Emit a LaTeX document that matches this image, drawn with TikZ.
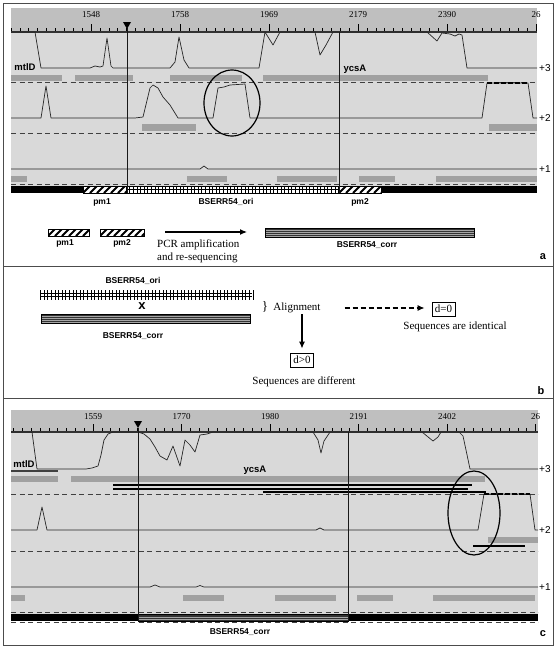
\documentclass[tikz,border=0pt]{standalone}
\usepackage{fontspec}
\setmainfont{Liberation Serif}
\newfontfamily\tagfont{Liberation Sans}
\usetikzlibrary{arrows.meta}
\tikzset{
  plotbg/.style={fill=black!15},
  rulerbg/.style={fill=black!25},
  hitbar/.style={fill=black!37},
  trace/.style={line width=0.7pt, draw=black!85, line join=round},
  sepline/.style={dash pattern=on 5pt off 3.5pt, line width=0.6pt, draw=black!75},
  cursor/.style={line width=0.7pt, draw=black!90},
  ring/.style={line width=1.2pt, draw=black},
  seqtag/.style={font=\tagfont\bfseries\fontsize{8.5}{10}\selectfont, inner sep=0pt},
  genetag/.style={font=\tagfont\bfseries\fontsize{9.5}{11}\selectfont, inner sep=0pt},
  frametag/.style={font=\tagfont\fontsize{10}{12}\selectfont, inner sep=0pt, anchor=west},
  postag/.style={font=\fontsize{9}{10}\selectfont, inner sep=0pt},
  notetext/.style={font=\fontsize{11}{13}\selectfont, inner sep=0pt},
  panel/.style={font=\tagfont\bfseries\fontsize{11}{13}\selectfont, inner sep=0pt},
  dbox/.style={draw, line width=0.8pt, minimum width=23pt, minimum height=14pt, inner sep=1pt, font=\fontsize{11}{13}\selectfont},
  flow/.style={-{Latex[length=7pt,width=6pt]}, line width=1.2pt}
}
% bar fillings: x1, y1, x2, y2
\newcommand{\hatchbar}[4]{%
  \fill[white] (#1,#2) rectangle (#3,#4);
  \begin{scope}
    \clip (#1,#2) rectangle (#3,#4);
    \foreach \k in {-2,...,12}
      \draw[line width=2pt] ({#1+\k*7},#4) -- ++(9,-9);
  \end{scope}
  \draw[line width=0.5pt] (#1,#2) rectangle (#3,#4);
}
\newcommand{\gridbar}[4]{%
  \fill[white] (#1,#2) rectangle (#3,#4);
  \begin{scope}
    \clip (#1,#2) rectangle (#3,#4);
    \foreach \k in {0,...,65}
      \draw[line width=0.5pt] ({#1+\k*3.6},#2) -- ({#1+\k*3.6},#4);
  \end{scope}
  \draw[line width=0.5pt] (#1,#2) rectangle (#3,#4);
  \draw[line width=0.5pt] (#1,{(#2+#4)/2}) -- (#3,{(#2+#4)/2});
}
\newcommand{\corrbar}[4]{%
  \fill[black!35] (#1,#2) rectangle (#3,#4);
  \foreach \f in {0.15,0.38,0.62,0.85}
    \draw[line width=0.6pt, black!80] (#1,{#2+\f*(#4-#2)}) -- (#3,{#2+\f*(#4-#2)});
  \draw[line width=0.5pt] (#1,#2) rectangle (#3,#4);
}

\begin{document}
\begin{tikzpicture}[x=1pt, y=-1pt]
  \useasboundingbox (0,0) rectangle (557,648);
  \fill[white] (0,0) rectangle (557,648);
  \draw[line width=1pt, black!70] (3,3) rectangle (553,645);
  \draw[line width=1pt, black!70] (3,266) -- (553,266);
  \draw[line width=1pt, black!70] (3,398) -- (553,398);

  % ---- panel a ----
  \fill[rulerbg] (11,8) rectangle (537,32);
  \fill[plotbg] (11,32) rectangle (537,193);
  \foreach \j in {-9,...,50}
    \draw[line width=0.5pt] ({91+\j*8.9},28) -- ({91+\j*8.9},32);
  \foreach \v [count=\k from 0] in {1548,1758,1969,2179,2390,26} {
    \draw[line width=0.6pt] ({91+\k*89},24) -- ({91+\k*89},32);
    \node[postag] (tka\k) at ({91+\k*89},15) {\v};
  }
  \draw[line width=1.6pt, black!80] (11,32) -- (537,32);

  \fill[hitbar] (11,75) rectangle (62,81);
  \fill[hitbar] (75,75) rectangle (133,81);
  \fill[hitbar] (170,75) rectangle (242,81);
  \fill[hitbar] (263,75) rectangle (488,81);
  \fill[hitbar] (142,124) rectangle (196,131);
  \fill[hitbar] (489,124) rectangle (537,131);
  \fill[hitbar] (11,176) rectangle (27,182);
  \fill[hitbar] (187,176) rectangle (227,182);
  \fill[hitbar] (277,176) rectangle (337,182);
  \fill[hitbar] (359,176) rectangle (395,182);
  \fill[hitbar] (436,176) rectangle (537,182);
  \foreach \y in {82,133,184}
    \draw[sepline] (11,\y) -- (537,\y);

  \draw[trace] (11,32) -- (35,32) -- (41,68) -- (90,68) -- (95,66) -- (100,67) -- (103,66) -- (107,38)
    -- (111,66) -- (113,68) -- (170,68) -- (175,62) -- (179,37) -- (184,60) -- (189,68) -- (259,68)
    -- (265,32) -- (273,45) -- (280,32) -- (315,32) -- (320,55) -- (326,45) -- (333,32) -- (427,32)
    -- (437,41) -- (442,33) -- (450,34) -- (455,36) -- (459,34) -- (462,35) -- (467,68) -- (537,68);
  \draw[trace] (11,118) -- (41,118) -- (46,86) -- (51,118) -- (135,118) -- (143,117) -- (150,88)
    -- (153,85) -- (158,88) -- (163,97) -- (170,105) -- (178,118) -- (213,118) -- (218,88) -- (224,87)
    -- (230,85) -- (245,84) -- (250,118) -- (482,118) -- (487,83) -- (528,83) -- (533,118) -- (537,118);
  \draw[line width=1.4pt, dash pattern=on 5pt off 2pt] (487,83) -- (528,83);
  \draw[trace] (11,169) -- (200,169) -- (204,166) -- (208,169) -- (537,169);

  \fill[black] (11,186) rectangle (83,193);
  \hatchbar{83}{186}{126}{193}
  \gridbar{126}{186}{339}{193}
  \hatchbar{339}{186}{381}{193}
  \fill[black] (381,186) rectangle (537,193);

  \draw[cursor] (127,28) -- (127,193);
  \fill (123,22) -- (131,22) -- (127,29) -- cycle;
  \draw[cursor] (339,32) -- (339,193);
  \draw[ring] (232,103) ellipse [x radius=28pt, y radius=33pt];

  \node[genetag] (mtlda) at (25,67) {mtlD};
  \node[genetag] (ycsaa) at (355,69) {ycsA};
  \node[frametag] (fa3) at (539,68) {+3};
  \node[frametag] (fa2) at (539,118) {+2};
  \node[frametag] (fa1) at (539,169) {+1};
  \node[seqtag] (pm1a) at (102,202) {pm1};
  \node[seqtag] (oria) at (226,202) {BSERR54\_ori};
  \node[seqtag] (pm2a) at (360,202) {pm2};

  \hatchbar{48}{229}{89}{236}
  \hatchbar{100}{229}{144}{236}
  \node[seqtag] (pm1b) at (65,243) {pm1};
  \node[seqtag] (pm2b) at (122,243) {pm2};
  \coordinate (pcrs) at (165,232);
  \coordinate (pcre) at (247,232);
  \draw[flow] (pcrs) -- (pcre);
  \node[notetext, anchor=west] (pcr1) at (157,245) {PCR amplification};
  \node[notetext, anchor=west] (pcr2) at (157,258) {and re-sequencing};
  \corrbar{265}{228}{474}{237}
  \node[seqtag] (corra) at (367,245) {BSERR54\_corr};
  \node[panel] (pa) at (543,257) {a};

  % ---- panel b ----
  \node[seqtag] (orib) at (133,281) {BSERR54\_ori};
  \draw[line width=0.6pt] (40,293) -- (252,293);
  \draw[line width=0.6pt] (40,296.5) -- (252,296.5);
  \foreach \k in {0,...,59}
    \draw[line width=0.6pt] ({40.5+\k*3.6},290) -- ({40.5+\k*3.6},299.5);
  \node[font=\tagfont\bfseries\fontsize{13}{14}\selectfont, inner sep=0pt] (cross) at (142,306) {x};
  \corrbar{41}{314}{250}{323}
  \node[seqtag] (corrb) at (133,336) {BSERR54\_corr};
  \node[notetext, font=\fontsize{13}{14}\selectfont] (brace) at (265,307) {\}};
  \node[notetext] (align) at (297,308) {Alignment};
  \node[dbox] (deq) at (443.5,309) {d=0};
  \node[notetext] (same) at (455,327) {Sequences are identical};
  \node[dbox] (dgt) at (302,360) {d>0};
  \node[notetext] (diff) at (304,382) {Sequences are different};
  \draw[flow, dash pattern=on 5pt off 3pt, shorten <=24pt, shorten >=7pt] (align) -- (align -| deq.west);
  \draw[flow, shorten <=1pt, shorten >=4pt] (align.south -| dgt.north) -- (dgt.north);
  \node[panel] (pb) at (541,391) {b};

  % ---- panel c ----
  \fill[rulerbg] (11,410) rectangle (538,432);
  \fill[plotbg] (11,432) rectangle (538,621);
  \foreach \j in {-9,...,50}
    \draw[line width=0.5pt] ({93+\j*8.85},428) -- ({93+\j*8.85},432);
  \foreach \v [count=\k from 0] in {1559,1770,1980,2191,2402,26} {
    \draw[line width=0.6pt] ({93+\k*88.5},424) -- ({93+\k*88.5},432);
    \node[postag] (tkc\k) at ({93+\k*88.5},417) {\v};
  }
  \draw[line width=1.6pt, black!80] (11,432) -- (538,432);

  \fill[hitbar] (11,476) rectangle (58,482);
  \fill[hitbar] (71,476) rectangle (485,482);
  \fill[hitbar] (488,537) rectangle (538,543);
  \fill[hitbar] (11,595) rectangle (25,601);
  \fill[hitbar] (183,595) rectangle (224,601);
  \fill[hitbar] (275,595) rectangle (336,601);
  \fill[hitbar] (357,595) rectangle (393,601);
  \fill[hitbar] (433,595) rectangle (535,601);
  \foreach \y in {494,551,612,622}
    \draw[sepline] (11,\y) -- (538,\y);

  \draw[line width=1.5pt, black!75] (11,471) -- (58,471);
  \draw[line width=1.4pt] (113,485) -- (472,485);
  \draw[line width=1.4pt] (113,489) -- (468,489);
  \draw[line width=1.8pt] (263,492) -- (486,492);
  \draw[line width=1.5pt] (473,546) -- (525,546);

  \draw[trace] (11,432) -- (32,432) -- (37,469) -- (86,469) -- (92,468) -- (98,466) -- (101,455)
    -- (104,440) -- (108,434) -- (113,432) -- (138,432) -- (144,434) -- (150,439) -- (155,447)
    -- (160,456) -- (167,460) -- (173,446) -- (180,466) -- (185,440) -- (190,445) -- (195,452)
    -- (200,435) -- (207,434) -- (213,432) -- (313,432) -- (318,440) -- (321,453) -- (324,441)
    -- (330,432) -- (422,432) -- (433,441) -- (438,437) -- (441,432) -- (459,432) -- (463,436)
    -- (466,450) -- (470,469) -- (538,469);
  \draw[trace] (11,530) -- (37,530) -- (42,507) -- (47,530) -- (316,530) -- (320,528) -- (324,530)
    -- (478,530) -- (484,494) -- (530,494) -- (535,530) -- (538,530);
  \draw[line width=1.4pt, dash pattern=on 5pt off 2pt] (484,494) -- (530,494);
  \draw[trace] (11,587) -- (150,587) -- (155,585) -- (160,587) -- (196,587) -- (200,585.5)
    -- (204,587) -- (538,587);

  \fill[black] (11,614) rectangle (138,621);
  \corrbar{138}{614}{348}{621}
  \fill[black] (348,614) rectangle (538,621);

  \draw[cursor] (138,428) -- (138,621);
  \fill (134,421) -- (142,421) -- (138,428) -- cycle;
  \draw[cursor] (348,432) -- (348,621);
  \draw[ring] (474,513) ellipse [x radius=26pt, y radius=42pt];

  \node[genetag] (mtldc) at (24,464) {mtlD};
  \node[genetag] (ycsac) at (255,470) {ycsA};
  \node[frametag] (fc3) at (539,469) {+3};
  \node[frametag] (fc2) at (539,530) {+2};
  \node[frametag] (fc1) at (539,587) {+1};
  \node[seqtag] (corrc) at (240,632) {BSERR54\_corr};
  \node[panel] (pc) at (543,634) {c};
\end{tikzpicture}
\end{document}
